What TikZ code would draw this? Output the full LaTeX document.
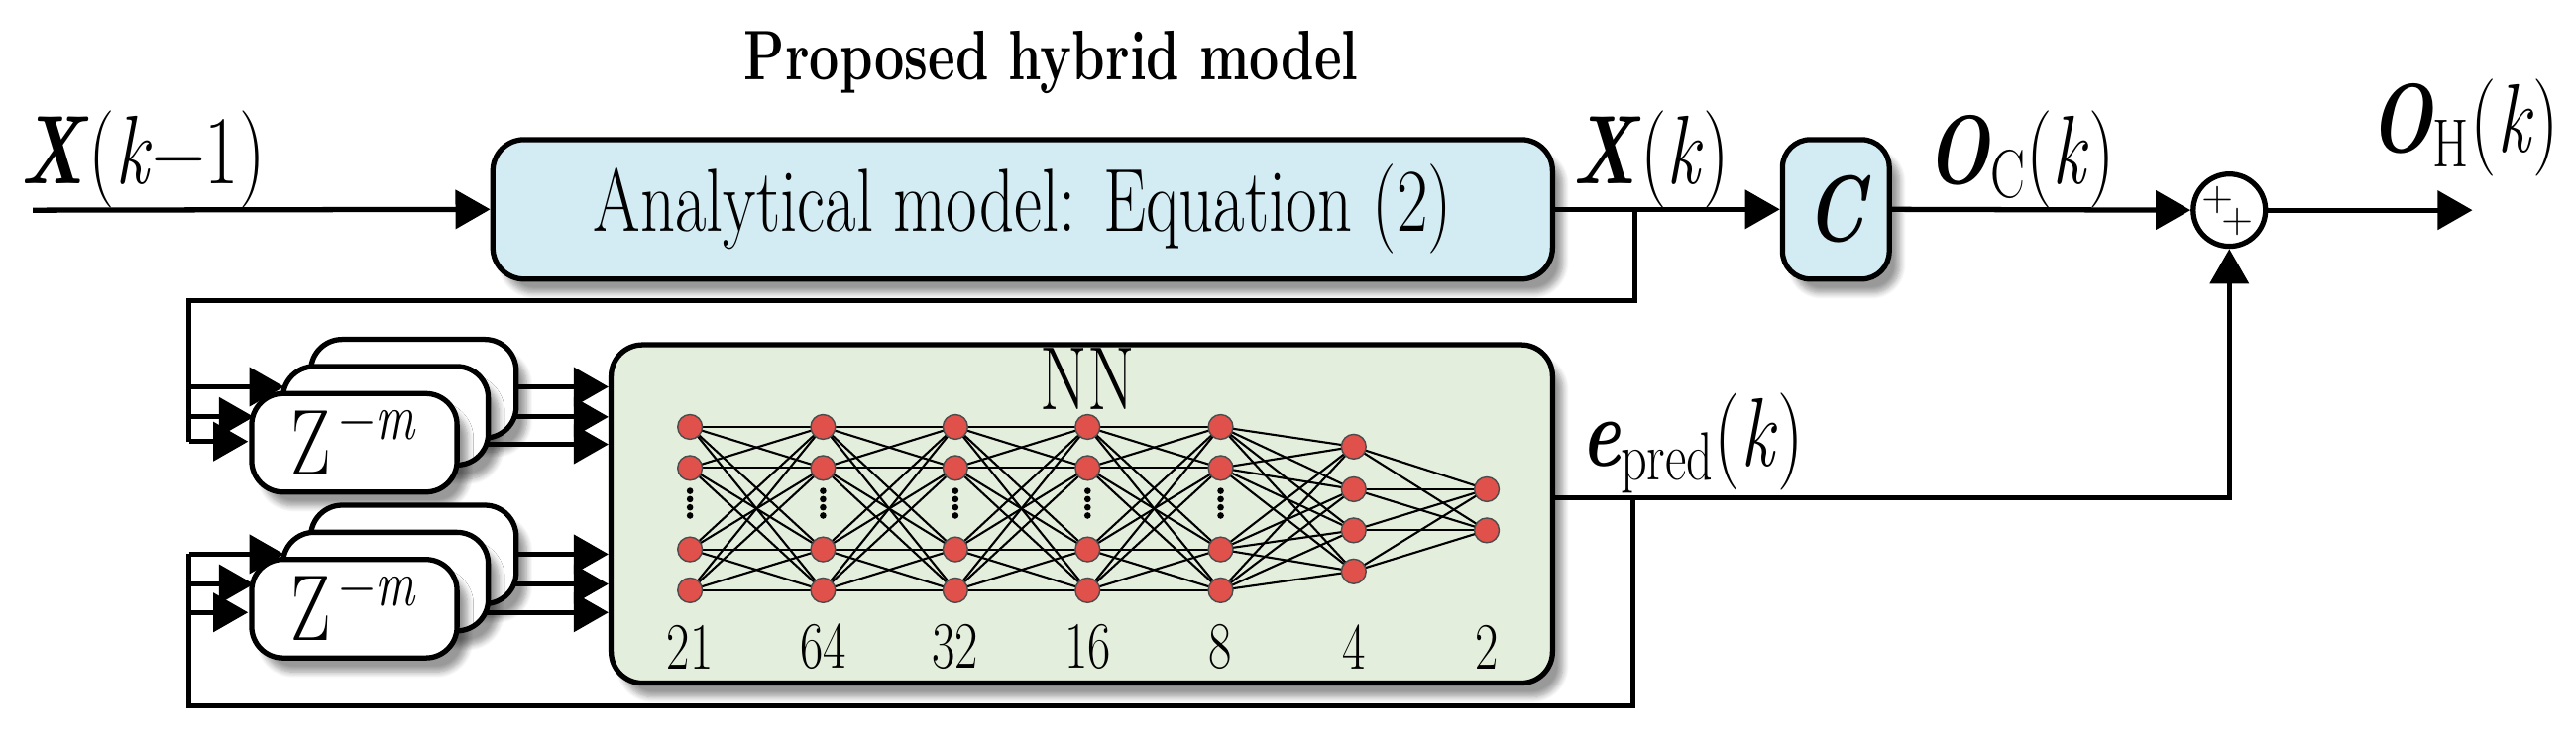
\documentclass[tikz,border=0pt]{standalone}
\usepackage{fontspec}
\usepackage{graphicx}
\usetikzlibrary{arrows.meta,shadows.blur,calc}
\definecolor{lblue}{HTML}{D3ECF4}
\definecolor{lgreen}{HTML}{E4EEDC}
\definecolor{nred}{HTML}{E0514B}
\newcommand{\tall}[1]{\scalebox{0.85}[1.12]{#1}}
\tikzset{
  wire/.style={line width=1.5pt},
  arr/.style={wire,-{Triangle[length=10pt,width=11pt]}},
  shad/.style={blur shadow={shadow xshift=3pt,shadow yshift=-4pt,shadow blur steps=8,shadow opacity=40}},
  blk/.style={draw,line width=1.5pt,rounded corners=9pt,shad},
  zbox/.style={blk,fill=white,minimum width=125*0.01658cm,minimum height=60*0.01658cm,font=\fontsize{24}{26}\selectfont,inner sep=0pt},
  neu/.style={circle,draw=black!70,line width=0.4pt,fill=nred,minimum size=15*0.01658cm,inner sep=0pt},
  lbl/.style={font=\fontsize{25}{28}\selectfont,inner sep=0pt},
  num/.style={font=\fontsize{17}{18}\selectfont,inner sep=0pt},
}
\newcommand{\zstack}[3]{%
  \node[zbox] (#1c) at (#2+36,#3-33) {};
  \node[zbox] (#1b) at (#2+19,#3-16.5) {};
  \node[zbox] (#1a) at (#2,#3) {\tall{Z\textsuperscript{\,−\textit{m}}}};
}
\begin{document}
\begin{tikzpicture}[x=0.01658cm,y=-0.01658cm]
\useasboundingbox (0,0) rectangle (1568,449);
% title
\node[font=\bfseries\fontsize{18}{20}\selectfont] (title) at (640,38) {\tall{Proposed hybrid model}};
% analytical model
\node[blk,fill=lblue,minimum width=645*0.01658cm,minimum height=85*0.01658cm,font=\fontsize{23}{24}\selectfont] (am) at (622.5,127.5) {\tall{Analytical model: Equation (2)}};
\node[blk,fill=lblue,minimum width=65*0.01658cm,minimum height=85*0.01658cm,font=\bfseries\itshape\fontsize{24}{24}\selectfont,rounded corners=8pt] (C) at (1117.5,127.5) {\tall{C}};
\node[circle,draw,line width=1.5pt,minimum size=44*0.01658cm,inner sep=0pt] (sum) at (1357,128) {};
\node[font=\fontsize{12}{12}\selectfont,inner sep=0pt] (p1) at (1350,122) {+};
\node[font=\fontsize{12}{12}\selectfont,inner sep=0pt] (p2) at (1362,135) {+};
% NN
\node[blk,fill=lgreen,minimum width=573*0.01658cm,minimum height=206*0.01658cm] (nn) at (658.5,313) {};
\node[font=\fontsize{23}{24}\selectfont,inner sep=0pt] (nnl) at (662,231) {\tall{NN}};
\foreach \i/\x in {1/420,2/501,3/581.5,4/662,5/743}{
  \foreach \j/\y in {1/260,2/285,3/334.6,4/359.5}{\coordinate (n\i-\j) at (\x,\y);}
  \foreach \d in {299,304,309,314}{\fill (\x,\d) circle (2);}
}
\foreach \j/\y in {1/272,2/298,3/323,4/348}{\coordinate (n6-\j) at (824,\y);}
\foreach \j/\y in {1/298,2/323}{\coordinate (n7-\j) at (905,\y);}
\foreach \i in {1,...,4}{\pgfmathtruncatemacro{\k}{\i+1}
  \foreach \a in {1,...,4}{\foreach \b in {1,...,4}{\draw[line width=0.6pt] (n\i-\a) -- (n\k-\b);}}}
\foreach \a in {1,...,4}{\foreach \b in {1,...,4}{\draw[line width=0.6pt] (n5-\a) -- (n6-\b);}}
\foreach \a in {1,...,4}{\foreach \b in {1,2}{\draw[line width=0.6pt] (n6-\a) -- (n7-\b);}}
\foreach \i in {1,...,5}{\foreach \j in {1,...,4}{\node[neu] at (n\i-\j) {};}}
\foreach \j in {1,...,4}{\node[neu] at (n6-\j) {};}
\foreach \j in {1,2}{\node[neu] at (n7-\j) {};}
\foreach \x/\t in {420/21,501/64,581.5/32,662/16,743/8,824/4,905/2}{\node[num] at (\x,394) {\tall{\t}};}
% labels
\node[lbl] (xin) at (87,97) {\tall{\textbf{\textit{X}}(\textit{k}−1)}};
\node[lbl] (xk) at (1005,97) {\tall{\textbf{\textit{X}}(\textit{k})}};
\node[lbl] (oc) at (1230,97) {\tall{\textbf{\textit{O}}\textsubscript{C}(\textit{k})}};
\node[lbl] (oh) at (1500,78) {\tall{\textbf{\textit{O}}\textsubscript{H}(\textit{k})}};
\node[lbl] (ep) at (1030,270) {\tall{\textbf{\textit{e}}\textsubscript{pred}(\textit{k})}};
% coordinates
\coordinate (in0) at (20,128);
\coordinate (b1) at (995,128);
\coordinate (b2) at (994,303);
\coordinate (out) at (1505,128);
% output lines of stacks (behind boxes)
\foreach \y in {235.6,253.9,270.6}{\draw[arr] (260,\y) -- (nn.west |- 0,\y);}
\foreach \y in {337.5,355.7,373}{\draw[arr] (260,\y) -- (nn.west |- 0,\y);}
\zstack{s}{215.7}{269.7}
\zstack{t}{215.7}{370.7}
% main path
\draw[arr] (in0) -- (am.west);
\draw[arr] (am.east) -- (C.west);
\draw[arr] (C.east) -- (sum.west);
\draw[arr] (sum.east) -- (out);
\draw[wire] (nn.east |- b2) -- (b2);
\draw[arr] (b2) -| (sum.south);
% feedback 1
\draw[wire] (b1) -- (995,183) -- (115,183) -- (115,268.9);
\draw[arr] (115,235.6) -- (173,235.6);
\draw[arr] (115,253.9) -- (154.5,253.9);
\draw[arr] (115,268.9) -- (151,268.9);
% feedback 2
\draw[wire] (b2) -- (994,430) -- (115,430) -- (115,337.5);
\draw[arr] (115,337.5) -- (173,337.5);
\draw[arr] (115,355.7) -- (154.5,355.7);
\draw[arr] (115,373) -- (151,373);
\end{tikzpicture}
\end{document}
